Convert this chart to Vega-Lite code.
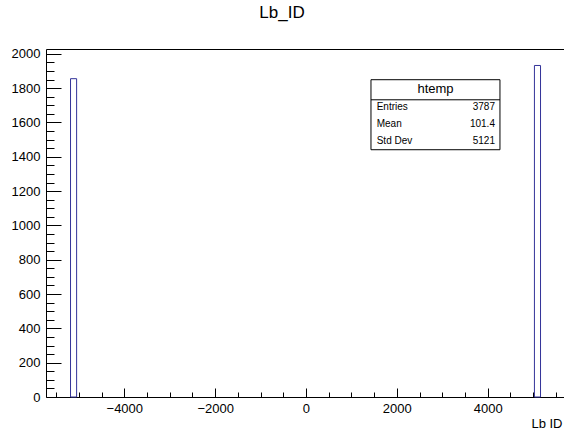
{
  "$schema": "https://vega.github.io/schema/vega-lite/v6.json",
  "width": 518,
  "height": 348,
  "autosize": "none",
  "padding": {"left": 46, "top": 49, "right": 0, "bottom": 32},
  "background": "white",
  "title": {"text": "Lb_ID", "fontSize": 17, "fontWeight": "normal", "font": "Liberation Sans", "anchor": "middle", "frame": "group", "dx": -23, "offset": 26, "color": "black"},
  "config": {
    "view": {"stroke": null},
    "font": "Liberation Sans",
    "axis": {"grid": false, "domainColor": "black", "tickColor": "black", "labelColor": "black", "labelFont": "Liberation Sans", "labelFontSize": 13, "titleFont": "Liberation Sans", "titleFontWeight": "normal", "titleFontSize": 13, "titleColor": "black", "domainWidth": 1, "tickWidth": 1}
  },
  "datasets": {
    "bins": [
      {"bin_start": -5184, "bin_end": -5050, "count": 1855},
      {"bin_start": 5030, "bin_end": 5164, "count": 1932}
    ]
  },
  "layer": [
    {
      "data": {"name": "bins"},
      "mark": {"type": "rect", "fill": "white", "stroke": "#333399", "strokeWidth": 1},
      "encoding": {
        "x": {"field": "bin_start", "type": "quantitative", "scale": {"domain": [-5724, 5681], "nice": false, "zero": false},
          "axis": {"orient": "bottom", "values": [-4000, -2000, 0, 2000, 4000], "format": "d", "tickSize": -9, "labelPadding": 14, "title": "Lb  ID", "titleAnchor": "end", "titleAlign": "right", "titleX": 516, "titleY": 26, "titleBaseline": "middle", "labelFlush": false, "labelOverlap": false}},
        "x2": {"field": "bin_end"},
        "y": {"field": "count", "type": "quantitative", "scale": {"domain": [0, 2028], "nice": false, "zero": true},
          "axis": {"orient": "left", "values": [0, 200, 400, 600, 800, 1000, 1200, 1400, 1600, 1800, 2000], "format": "d", "tickSize": -15, "labelPadding": 21, "title": null, "labelFlush": false, "labelOverlap": false}},
        "y2": {"datum": 0}
      }
    },
    {
      "data": {"name": "bins"},
      "mark": {"type": "rect", "opacity": 0},
      "encoding": {
        "x": {"field": "bin_start", "type": "quantitative", "scale": {"domain": [-5724, 5681], "nice": false, "zero": false},
          "axis": {"orient": "bottom", "values": [-5500, -5000, -4500, -3500, -3000, -2500, -1500, -1000, -500, 500, 1000, 1500, 2500, 3000, 3500, 4500, 5000, 5500], "tickSize": -5, "labels": false, "domain": false, "title": null}},
        "x2": {"field": "bin_end"},
        "y": {"field": "count", "type": "quantitative", "scale": {"domain": [0, 2028], "nice": false},
          "axis": {"orient": "left", "values": [50, 100, 150, 250, 300, 350, 450, 500, 550, 650, 700, 750, 850, 900, 950, 1050, 1100, 1150, 1250, 1300, 1350, 1450, 1500, 1550, 1650, 1700, 1750, 1850, 1900, 1950], "tickSize": -8, "labels": false, "domain": false, "title": null}},
        "y2": {"datum": 0}
      }
    },
    {
      "data": {"name": "bins"},
      "mark": {"type": "rect", "opacity": 0},
      "encoding": {
        "x": {"field": "bin_start", "type": "quantitative", "scale": {"domain": [-5724, 5681], "nice": false, "zero": false},
          "axis": {"orient": "top", "ticks": false, "labels": false, "domain": true, "title": null}},
        "x2": {"field": "bin_end"},
        "y": {"field": "count", "type": "quantitative", "axis": null},
        "y2": {"datum": 0}
      }
    },
    {
      "data": {"values": [{"box": "htemp"}]},
      "mark": {"type": "rect", "fill": "white", "stroke": "black", "strokeWidth": 1},
      "encoding": {
        "x": {"datum": 1431, "type": "quantitative", "axis": null},
        "x2": {"datum": 4271},
        "y": {"datum": 1849, "type": "quantitative", "axis": null},
        "y2": {"datum": 1441}
      }
    },
    {
      "data": {"values": [{"box": "htemp"}]},
      "mark": {"type": "rule", "color": "black", "strokeWidth": 1},
      "encoding": {
        "x": {"datum": 1431, "type": "quantitative", "axis": null},
        "x2": {"datum": 4271},
        "y": {"datum": 1732, "type": "quantitative", "axis": null}
      }
    },
    {
      "data": {"values": [{"box": "htemp"}]},
      "mark": {"type": "text", "fontSize": 13, "align": "center", "baseline": "middle", "color": "black"},
      "encoding": {
        "x": {"datum": 2851, "type": "quantitative", "axis": null},
        "y": {"datum": 1797, "type": "quantitative", "axis": null},
        "text": {"field": "box"}
      }
    },
    {
      "data": {"values": [{"box": "htemp"}]},
      "mark": {"type": "text", "fontSize": 10, "align": "left", "baseline": "middle", "lineHeight": 17, "color": "black", "text": ["Entries", "Mean", "Std Dev"]},
      "encoding": {
        "x": {"datum": 1557, "type": "quantitative", "axis": null},
        "y": {"datum": 1690, "type": "quantitative", "axis": null}
      }
    },
    {
      "data": {"values": [{"box": "htemp"}]},
      "mark": {"type": "text", "fontSize": 10, "align": "right", "baseline": "middle", "lineHeight": 17, "color": "black", "text": ["3787", "101.4", "5121"]},
      "encoding": {
        "x": {"datum": 4161, "type": "quantitative", "axis": null},
        "y": {"datum": 1690, "type": "quantitative", "axis": null}
      }
    }
  ],
  "resolve": {"axis": {"x": "independent", "y": "independent"}}
}
